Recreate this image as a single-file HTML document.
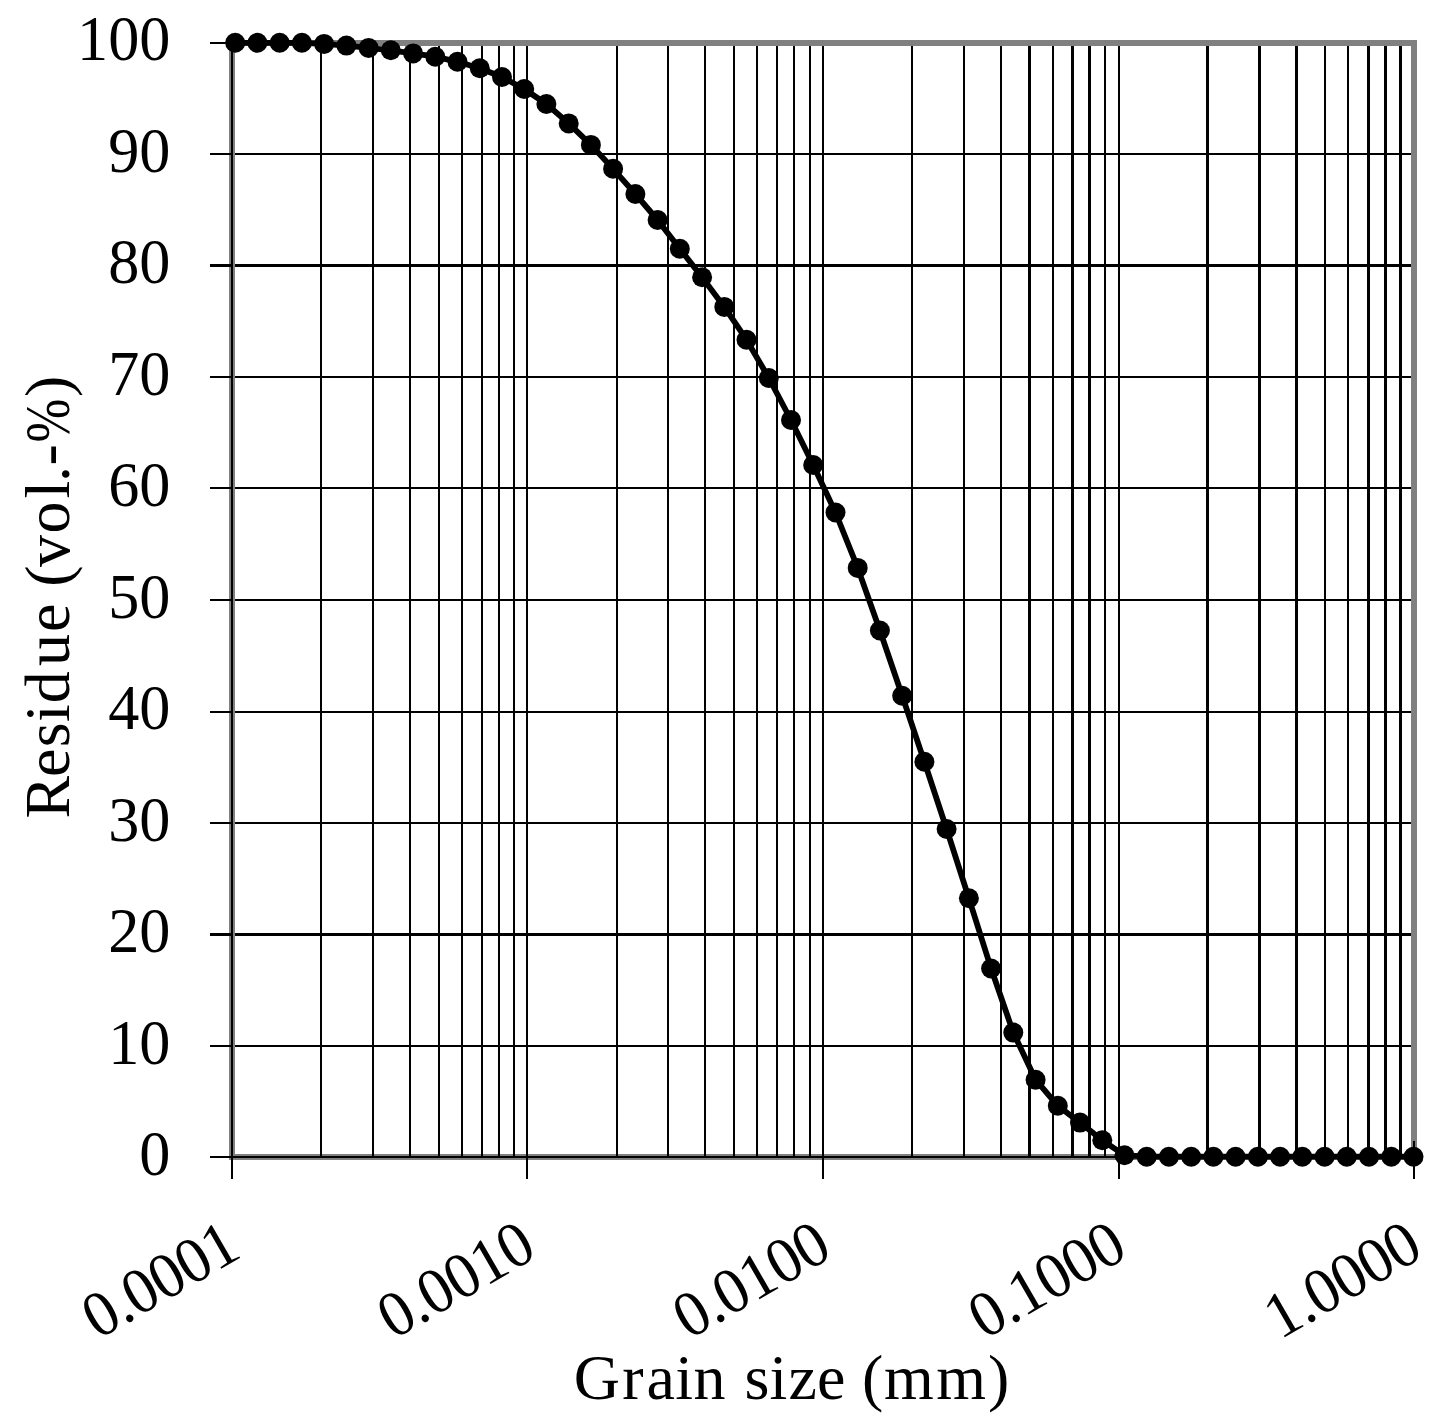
<!DOCTYPE html>
<html lang="en"><head><meta charset="utf-8"><title>Grain size distribution</title>
<style>html,body{margin:0;padding:0;background:#fff}svg{display:block}text{font-family:"Liberation Serif","DejaVu Serif",serif;fill:#000}</style></head><body>
<svg width="1443" height="1427" viewBox="0 0 1443 1427">
<rect width="1443" height="1427" fill="#fff"/>
<g shape-rendering="crispEdges">
<rect x="232" y="43" width="1182" height="1114" fill="none" stroke="#808080" stroke-width="6"/>
<g fill="#000">
<rect x="320" y="46" width="2" height="1111"/>
<rect x="372" y="46" width="2" height="1111"/>
<rect x="409" y="46" width="2" height="1111"/>
<rect x="438" y="46" width="2" height="1111"/>
<rect x="461" y="46" width="2" height="1111"/>
<rect x="481" y="46" width="2" height="1111"/>
<rect x="498" y="46" width="2" height="1111"/>
<rect x="513" y="46" width="2" height="1111"/>
<rect x="526" y="46" width="2" height="1111"/>
<rect x="616" y="46" width="2" height="1111"/>
<rect x="667" y="46" width="2" height="1111"/>
<rect x="704" y="46" width="2" height="1111"/>
<rect x="733" y="46" width="2" height="1111"/>
<rect x="756" y="46" width="2" height="1111"/>
<rect x="776" y="46" width="2" height="1111"/>
<rect x="793" y="46" width="2" height="1111"/>
<rect x="809" y="46" width="2" height="1111"/>
<rect x="822" y="46" width="2" height="1111"/>
<rect x="911" y="46" width="2" height="1111"/>
<rect x="963" y="46" width="2" height="1111"/>
<rect x="1000" y="46" width="2" height="1111"/>
<rect x="1028" y="46" width="3" height="1111"/>
<rect x="1052" y="46" width="2" height="1111"/>
<rect x="1071" y="46" width="3" height="1111"/>
<rect x="1088" y="46" width="3" height="1111"/>
<rect x="1104" y="46" width="2" height="1111"/>
<rect x="1118" y="46" width="2" height="1111"/>
<rect x="1206" y="46" width="3" height="1111"/>
<rect x="1258" y="46" width="3" height="1111"/>
<rect x="1295" y="46" width="3" height="1111"/>
<rect x="1324" y="46" width="2" height="1111"/>
<rect x="1347" y="46" width="2" height="1111"/>
<rect x="1367" y="46" width="3" height="1111"/>
<rect x="1384" y="46" width="3" height="1111"/>
<rect x="1399" y="46" width="3" height="1111"/>
<rect x="235" y="153" width="1176" height="2"/>
<rect x="235" y="264" width="1176" height="3"/>
<rect x="235" y="376" width="1176" height="2"/>
<rect x="235" y="487" width="1176" height="2"/>
<rect x="235" y="599" width="1176" height="2"/>
<rect x="235" y="711" width="1176" height="2"/>
<rect x="235" y="822" width="1176" height="2"/>
<rect x="235" y="933" width="1176" height="3"/>
<rect x="235" y="1045" width="1176" height="2"/>
<rect x="231" y="42" width="2" height="1137"/>
<rect x="210" y="1156" width="1205" height="2"/>
<rect x="210" y="42" width="22" height="2"/>
<rect x="210" y="153" width="22" height="2"/>
<rect x="210" y="264" width="22" height="3"/>
<rect x="210" y="376" width="22" height="2"/>
<rect x="210" y="487" width="22" height="2"/>
<rect x="210" y="599" width="22" height="2"/>
<rect x="210" y="711" width="22" height="2"/>
<rect x="210" y="822" width="22" height="2"/>
<rect x="210" y="933" width="22" height="3"/>
<rect x="210" y="1045" width="22" height="2"/>
<rect x="526" y="1157" width="2" height="22"/>
<rect x="822" y="1157" width="2" height="22"/>
<rect x="1118" y="1157" width="2" height="22"/>
<rect x="1413" y="1141" width="2" height="38"/>
</g></g>
<path d="M235.2 42.8 L257.4 42.8 L279.7 42.8 L301.9 42.8 L324.1 43.9 L346.4 45.6 L368.6 47.9 L390.8 50.3 L413.1 53.4 L435.3 56.7 L457.5 61.8 L479.8 68.2 L502.0 77.0 L524.2 89.0 L546.4 104.0 L568.7 123.4 L590.9 144.9 L613.1 168.8 L635.4 194.0 L657.6 220.0 L679.8 248.7 L702.1 277.2 L724.3 306.9 L746.5 339.7 L768.8 378.0 L791.0 420.0 L813.2 465.0 L835.5 512.5 L857.7 567.9 L879.9 630.5 L902.2 695.7 L924.4 761.8 L946.6 829.0 L968.9 898.3 L991.1 968.5 L1013.3 1032.6 L1035.6 1079.7 L1057.8 1105.8 L1080.0 1122.6 L1102.3 1140.3 L1124.5 1155.2 L1146.7 1156.7 L1168.9 1156.7 L1191.2 1156.7 L1213.4 1156.7 L1235.6 1156.7 L1257.9 1156.7 L1280.1 1156.7 L1302.3 1156.7 L1324.6 1156.7 L1346.8 1156.7 L1369.0 1156.7 L1391.3 1156.7 L1413.5 1156.7" fill="none" stroke="#000" stroke-width="5.8" stroke-linejoin="round"/>
<g fill="#000">
<circle cx="235.2" cy="42.8" r="10"/>
<circle cx="257.4" cy="42.8" r="10"/>
<circle cx="279.7" cy="42.8" r="10"/>
<circle cx="301.9" cy="42.8" r="10"/>
<circle cx="324.1" cy="43.9" r="10"/>
<circle cx="346.4" cy="45.6" r="10"/>
<circle cx="368.6" cy="47.9" r="10"/>
<circle cx="390.8" cy="50.3" r="10"/>
<circle cx="413.1" cy="53.4" r="10"/>
<circle cx="435.3" cy="56.7" r="10"/>
<circle cx="457.5" cy="61.8" r="10"/>
<circle cx="479.8" cy="68.2" r="10"/>
<circle cx="502.0" cy="77.0" r="10"/>
<circle cx="524.2" cy="89.0" r="10"/>
<circle cx="546.4" cy="104.0" r="10"/>
<circle cx="568.7" cy="123.4" r="10"/>
<circle cx="590.9" cy="144.9" r="10"/>
<circle cx="613.1" cy="168.8" r="10"/>
<circle cx="635.4" cy="194.0" r="10"/>
<circle cx="657.6" cy="220.0" r="10"/>
<circle cx="679.8" cy="248.7" r="10"/>
<circle cx="702.1" cy="277.2" r="10"/>
<circle cx="724.3" cy="306.9" r="10"/>
<circle cx="746.5" cy="339.7" r="10"/>
<circle cx="768.8" cy="378.0" r="10"/>
<circle cx="791.0" cy="420.0" r="10"/>
<circle cx="813.2" cy="465.0" r="10"/>
<circle cx="835.5" cy="512.5" r="10"/>
<circle cx="857.7" cy="567.9" r="10"/>
<circle cx="879.9" cy="630.5" r="10"/>
<circle cx="902.2" cy="695.7" r="10"/>
<circle cx="924.4" cy="761.8" r="10"/>
<circle cx="946.6" cy="829.0" r="10"/>
<circle cx="968.9" cy="898.3" r="10"/>
<circle cx="991.1" cy="968.5" r="10"/>
<circle cx="1013.3" cy="1032.6" r="10"/>
<circle cx="1035.6" cy="1079.7" r="10"/>
<circle cx="1057.8" cy="1105.8" r="10"/>
<circle cx="1080.0" cy="1122.6" r="10"/>
<circle cx="1102.3" cy="1140.3" r="10"/>
<circle cx="1124.5" cy="1155.2" r="10"/>
<circle cx="1146.7" cy="1156.7" r="10"/>
<circle cx="1168.9" cy="1156.7" r="10"/>
<circle cx="1191.2" cy="1156.7" r="10"/>
<circle cx="1213.4" cy="1156.7" r="10"/>
<circle cx="1235.6" cy="1156.7" r="10"/>
<circle cx="1257.9" cy="1156.7" r="10"/>
<circle cx="1280.1" cy="1156.7" r="10"/>
<circle cx="1302.3" cy="1156.7" r="10"/>
<circle cx="1324.6" cy="1156.7" r="10"/>
<circle cx="1346.8" cy="1156.7" r="10"/>
<circle cx="1369.0" cy="1156.7" r="10"/>
<circle cx="1391.3" cy="1156.7" r="10"/>
<circle cx="1413.5" cy="1156.7" r="10"/>
</g>
<g font-size="64.3" text-anchor="end">
<text transform="translate(170.4 60) scale(0.968 1)">100</text>
<text transform="translate(170.4 172) scale(0.968 1)">90</text>
<text transform="translate(170.4 283) scale(0.968 1)">80</text>
<text transform="translate(170.4 395) scale(0.968 1)">70</text>
<text transform="translate(170.4 506) scale(0.968 1)">60</text>
<text transform="translate(170.4 618) scale(0.968 1)">50</text>
<text transform="translate(170.4 729) scale(0.968 1)">40</text>
<text transform="translate(170.4 841) scale(0.968 1)">30</text>
<text transform="translate(170.4 952) scale(0.968 1)">20</text>
<text transform="translate(170.4 1064) scale(0.968 1)">10</text>
<text transform="translate(170.4 1175) scale(0.968 1)">0</text>
</g>
<g font-size="64.8" text-anchor="end" letter-spacing="-0.62">
<text transform="translate(243.0 1256.3) rotate(-30) scale(0.96 1)">0.0001</text>
<text transform="translate(538.5 1256.3) rotate(-30) scale(0.96 1)">0.0010</text>
<text transform="translate(834.0 1256.3) rotate(-30) scale(0.96 1)">0.0100</text>
<text transform="translate(1129.5 1256.3) rotate(-30) scale(0.96 1)">0.1000</text>
<text transform="translate(1425.0 1256.3) rotate(-30) scale(0.96 1)">1.0000</text>
</g>
<text font-size="64" y="1399" x="573.8 622.2 646.5 675.3 693.6 725.6 744.6 769.5 788.4 817.0 845.5 862.1 883.9 936.2 988.0">Grain size (mm)</text>
<text font-size="64" transform="translate(69 0) rotate(-90)" x="-818.4 -777.0 -747.3 -722.1 -703.2 -666.0 -631.9 -603.5 -586.8 -566.9 -533.6 -498.4 -481.9 -465.4 -442.5 -396.9">Residue (vol.-<tspan textLength="43.7" lengthAdjust="spacingAndGlyphs">%</tspan>)</text>
</svg></body></html>
